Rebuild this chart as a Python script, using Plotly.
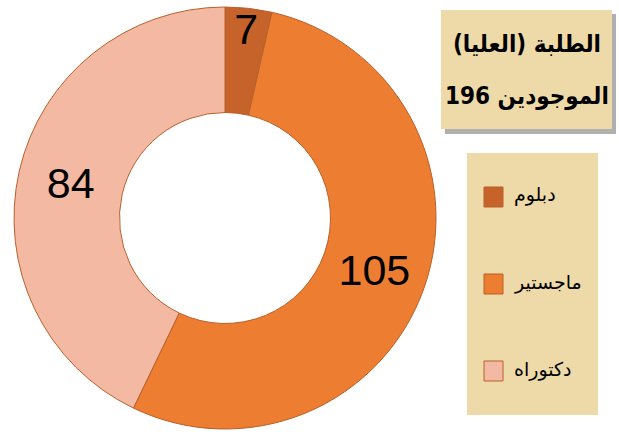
import plotly.graph_objects as go

categories = ["دبلوم", "ماجستير", "دكتوراه"]
values = [7, 105, 84]
colors = ["#C6632B", "#ED7D31", "#F4B9A3"]
title_lines = ["الطلبة (العليا)", "الموجودين 196"]

W, H = 619, 432
def px(x):
    return x / W
def py(y):
    return 1 - y / H

fig = go.Figure()
fig.add_trace(go.Pie(
    labels=categories, values=values, hole=0.5, sort=False,
    direction="clockwise", rotation=0,
    marker=dict(colors=colors, line=dict(color="#B8602A", width=1)),
    textinfo="value", textposition="inside", insidetextorientation="horizontal",
    textfont=dict(family="Liberation Sans, Arial, sans-serif", size=43, color="black"),
    domain=dict(x=[px(14), px(436)], y=[py(429), py(7)]),
    showlegend=False, hoverinfo="label+value",
))

paper_bg = "#EDDAA8"
shapes = []
# title box shadow
shapes.append(dict(type="rect", xref="paper", yref="paper",
                   x0=px(445), x1=px(616), y0=py(134), y1=py(14),
                   fillcolor="rgba(80,80,80,0.45)", line=dict(width=0), layer="below"))
shapes.append(dict(type="rect", xref="paper", yref="paper",
                   x0=px(441), x1=px(612), y0=py(129), y1=py(10),
                   fillcolor=paper_bg, line=dict(width=0), layer="below"))
# legend box
shapes.append(dict(type="rect", xref="paper", yref="paper",
                   x0=px(467), x1=px(598), y0=py(415), y1=py(153),
                   fillcolor=paper_bg, line=dict(width=0), layer="below"))

annotations = []
for i, line in enumerate(title_lines):
    annotations.append(dict(
        xref="paper", yref="paper", x=px(527), y=py(44 + i * 52),
        text="<b>" + line + "</b>", showarrow=False, xanchor="center", yanchor="middle",
        font=dict(family="DejaVu Sans Condensed, DejaVu Sans, sans-serif", size=24, color="black")))

legend_y = [197, 284, 371]
for cat, col, yy in zip(categories, colors, legend_y):
    shapes.append(dict(type="rect", xref="paper", yref="paper",
                       x0=px(484), x1=px(503), y0=py(yy + 10), y1=py(yy - 10),
                       fillcolor=col, line=dict(color="#B8602A", width=1)))
    annotations.append(dict(
        xref="paper", yref="paper", x=px(512), y=py(yy - 2),
        text=cat, showarrow=False, xanchor="left", yanchor="middle",
        font=dict(family="DejaVu Sans, sans-serif", size=19, color="black")))

fig.update_layout(
    width=W, height=H, margin=dict(l=0, r=0, t=0, b=0),
    paper_bgcolor="white", plot_bgcolor="white",
    shapes=shapes, annotations=annotations,
    uniformtext=dict(minsize=43, mode="show"),
)
fig.write_html("out.html", config={"displayModeBar": False},
               post_script="document.body.style.margin='0';document.body.style.padding='0';")
